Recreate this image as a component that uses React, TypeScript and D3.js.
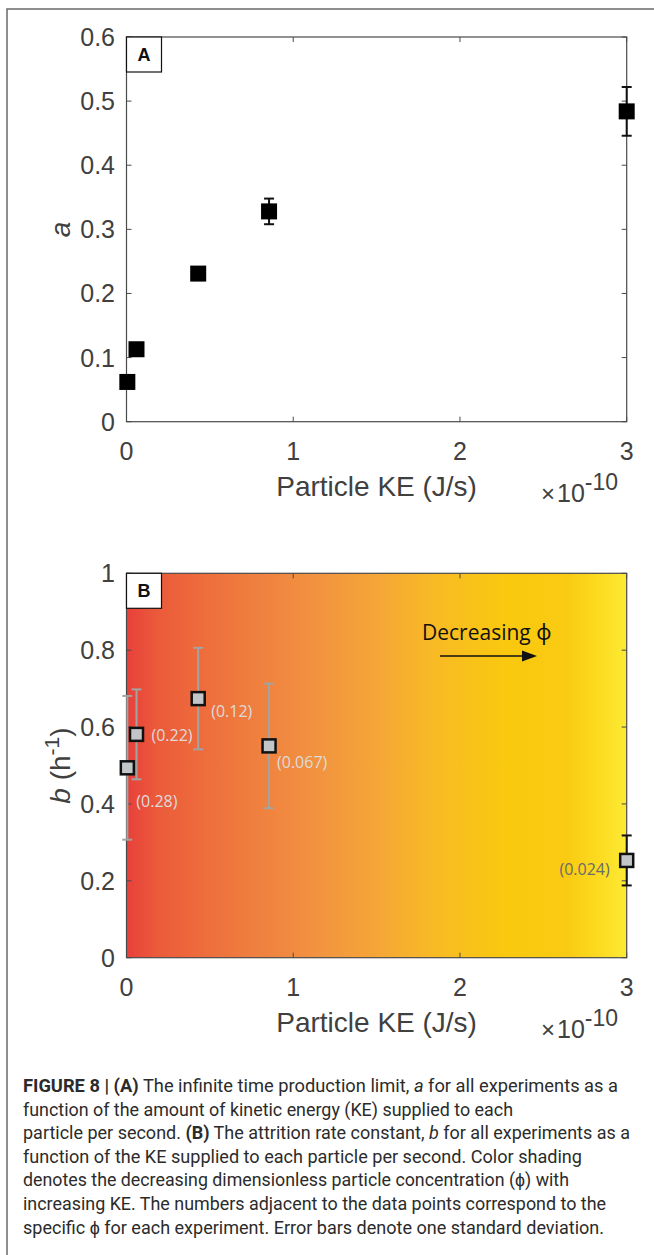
import React from "react";
import * as d3 from "d3";

// ---------- data ----------
const keA = [0.005, 0.06, 0.43, 0.855, 3.0]; // Particle KE (x1e-10 J/s)
const aVals = [0.062, 0.113, 0.231, 0.328, 0.484];
const aErr = [0, 0, 0, 0.02, 0.038];

const keB = [0.005, 0.06, 0.43, 0.855, 3.0];
const bVals = [0.494, 0.581, 0.674, 0.551, 0.253];
const bErr = [0.187, 0.117, 0.132, 0.162, 0.065];
const phiLabels = ["(0.28)", "(0.22)", "(0.12)", "(0.067)", "(0.024)"];

const xTicks = [0, 1, 2, 3];
const aTicks = [0, 0.1, 0.2, 0.3, 0.4, 0.5, 0.6];
const bTicks = [0, 0.2, 0.4, 0.6, 0.8, 1];

// label placement (px offsets from the point) and colours
const phiDx = [9, 15, 13, 8, -17];
const phiDy = [33, 1, 13, 16, 9];
const phiAnchor = ["start", "start", "start", "start", "end"];
const phiColor = ["#dcdcdc", "#dcdcdc", "#dcdcdc", "#dcdcdc", "#6a6a6a"];
const errColorB = ["#a3a3a3", "#a3a3a3", "#a3a3a3", "#a3a3a3", "#111"];

const gradStops: [number, string][] = [
  [0, "#e8403b"],
  [0.06, "#eb5a3a"],
  [0.15, "#ee6c3c"],
  [0.25, "#ef7e3f"],
  [0.38, "#f29340"],
  [0.5, "#f5a637"],
  [0.62, "#f8bb24"],
  [0.75, "#f9c80f"],
  [0.88, "#f9cb12"],
  [0.95, "#fcdc22"],
  [1, "#fdeb35"],
];

type Seg = [string, string?];
const captionLines: Seg[][] = [
  [["FIGURE 8 | (A)", "b"], [" The infinite time production limit, "], ["a", "i"], [" for all experiments as a"]],
  [["function of the amount of kinetic energy (KE) supplied to each"]],
  [["particle per second. "], ["(B)", "b"], [" The attrition rate constant, "], ["b", "i"], [" for all experiments as a"]],
  [["function of the KE supplied to each particle per second. Color shading"]],
  [["denotes the decreasing dimensionless particle concentration (\u03d5) with"]],
  [["increasing KE. The numbers adjacent to the data points correspond to the"]],
  [["specific \u03d5 for each experiment. Error bars denote one standard deviation."]],
];
const captionWidths = [595, 490, 607, 559, 546, 583, 581];

// ---------- layout ----------
const W = 654;
const H = 1255;
const X0 = 126.5;
const X1 = 626.7;
const x = d3.scaleLinear().domain([0, 3]).range([X0, X1]);
const yA = d3.scaleLinear().domain([0, 0.6]).range([421.7, 37]);
const yB = d3.scaleLinear().domain([0, 1]).range([957.7, 573.3]);

const AX = "#4a4a4a";
const TXT = "#404040";
const FONT = "'Liberation Sans', Arial, Helvetica, sans-serif";
const MYR = "'Open Sans', 'Noto Sans', sans-serif";

function Axes({ y, yTicks, fmt }: { y: d3.ScaleLinear<number, number>; yTicks: number[]; fmt: (v: number) => string }) {
  const [yb, yt] = y.range();
  return (
    <g>
      <rect x={X0} y={yt} width={X1 - X0} height={yb - yt} fill="none" stroke={AX} strokeWidth={1.2} />
      {xTicks.map((t) => (
        <g key={"x" + t}>
          <line x1={x(t)} x2={x(t)} y1={yb} y2={yb - 5} stroke={AX} />
          <line x1={x(t)} x2={x(t)} y1={yt} y2={yt + 5} stroke={AX} />
          <text x={x(t)} y={yb + 38} textAnchor="middle" fontSize={25} fill={TXT} fontFamily={FONT}>
            {t}
          </text>
        </g>
      ))}
      {yTicks.map((t) => (
        <g key={"y" + t}>
          <line x1={X0} x2={X0 + 5} y1={y(t)} y2={y(t)} stroke={AX} />
          <line x1={X1} x2={X1 - 5} y1={y(t)} y2={y(t)} stroke={AX} />
          <text x={X0 - 11.5} y={y(t)} dy="0.36em" textAnchor="end" fontSize={25} fill={TXT} fontFamily={FONT}>
            {fmt(t)}
          </text>
        </g>
      ))}
      <text x={(X0 + X1) / 2} y={yb + 74} textAnchor="middle" fontSize={28} fill={TXT} fontFamily={FONT}>
        Particle KE (J/s)
      </text>
      <text x={541} y={yb + 80} fontSize={25} fill={TXT} fontFamily={FONT}>
        <tspan fontSize={24}>{"\u00d7"}</tspan>
        <tspan dx={2}>10</tspan>
        <tspan dy={-12} fontSize={23}>-10</tspan>
      </text>
    </g>
  );
}

function PanelLabel({ y0, label }: { y0: number; label: string }) {
  return (
    <g>
      <rect x={X0} y={y0} width={35} height={35} fill="#fff" stroke="#111" strokeWidth={1.2} />
      <text x={X0 + 17.5} y={y0 + 17.5} dy="0.36em" textAnchor="middle" fontSize={18} fontWeight="bold" fill="#111" fontFamily={FONT}>
        {label}
      </text>
    </g>
  );
}

export default function App() {
  const fmtA = (v: number) => (v === 0 ? "0" : d3.format(".1f")(v));
  const fmtB = (v: number) => (v === 0 || v === 1 ? String(v) : d3.format(".1f")(v));
  const capX = 23;
  const capY0 = 1092;
  const capDy = 23.6;
  return (
    <svg width={W} height={H} style={{ position: "absolute", left: 0, top: 0, background: "#fff" }}>
      <defs>
        <linearGradient id="phiGrad" x1="0" x2="1" y1="0" y2="0">
          {gradStops.map(([o, c]) => (
            <stop key={o} offset={o} stopColor={c} />
          ))}
        </linearGradient>
      </defs>
      {/* outer frame */}
      <path d={`M${W} 9 H7 V${H}`} fill="none" stroke="#6a6a6a" strokeWidth={1.5} />

      {/* ---------- Panel A ---------- */}
      <Axes y={yA} yTicks={aTicks} fmt={fmtA} />
      <text transform={`translate(70,${(yA(0) + yA(0.6)) / 2}) rotate(-90)`} textAnchor="middle" fontSize={28} fontStyle="italic" fill={TXT} fontFamily={FONT}>
        a
      </text>
      {keA.map((k, i) => (
        <g key={"a" + i}>
          {aErr[i] > 0 && (
            <g stroke="#111" strokeWidth={2}>
              <line x1={x(k)} x2={x(k)} y1={yA(aVals[i] - aErr[i])} y2={yA(aVals[i] + aErr[i])} />
              <line x1={x(k) - 5} x2={x(k) + 5} y1={yA(aVals[i] + aErr[i])} y2={yA(aVals[i] + aErr[i])} />
              <line x1={x(k) - 5} x2={x(k) + 5} y1={yA(aVals[i] - aErr[i])} y2={yA(aVals[i] - aErr[i])} />
            </g>
          )}
          <rect x={x(k) - 8} y={yA(aVals[i]) - 8} width={16} height={16} fill="#000" />
        </g>
      ))}
      <PanelLabel y0={yA(0.6)} label="A" />

      {/* ---------- Panel B ---------- */}
      <rect x={X0} y={yB(1)} width={X1 - X0} height={yB(0) - yB(1)} fill="url(#phiGrad)" />
      <Axes y={yB} yTicks={bTicks} fmt={fmtB} />
      <text transform={`translate(70,${(yB(0) + yB(1)) / 2}) rotate(-90)`} textAnchor="middle" fontSize={28} fill={TXT} fontFamily={FONT}>
        <tspan fontStyle="italic">b</tspan>
        <tspan> (h</tspan>
        <tspan dy={-11} fontSize={21}>-1</tspan>
        <tspan dy={11}>)</tspan>
      </text>
      <text x={422} y={640} fontSize={21} fill="#111" fontFamily={MYR}>
        Decreasing {"\u03d5"}
      </text>
      <line x1={440} x2={526} y1={656} y2={656} stroke="#111" strokeWidth={1.6} />
      <path d="M537 656 L522 650.5 L522 661.5 Z" fill="#111" />
      {keB.map((k, i) => {
        const cx = x(k);
        const cy = yB(bVals[i]);
        const top = yB(bVals[i] + bErr[i]);
        const bot = yB(bVals[i] - bErr[i]);
        return (
          <g key={"b" + i}>
            <g stroke={errColorB[i]} strokeWidth={2}>
              <line x1={cx} x2={cx} y1={top} y2={bot} />
              <line x1={cx - 5} x2={cx + 5} y1={top} y2={top} />
              <line x1={cx - 5} x2={cx + 5} y1={bot} y2={bot} />
            </g>
            <rect x={cx - 6.5} y={cy - 6.5} width={13} height={13} fill="#c3c6c8" stroke="#111" strokeWidth={2.5} />
            <text x={cx + phiDx[i]} y={cy + phiDy[i]} dy="0.36em" textAnchor={phiAnchor[i]} fontSize={16} fill={phiColor[i]} fontFamily={MYR}>
              {phiLabels[i]}
            </text>
          </g>
        );
      })}
      <PanelLabel y0={yB(1)} label="B" />

      {/* ---------- caption ---------- */}
      {captionLines.map((segs, li) => (
        <text
          key={li}
          x={capX}
          y={capY0 + li * capDy}
          fontSize={18}
          fill="#2b2b2b"
          fontFamily="Roboto, 'Liberation Sans', sans-serif"
          textLength={captionWidths[li]}
          lengthAdjust="spacingAndGlyphs"
        >
          {segs.map(([t, s], si) => (
            <tspan key={si} fontWeight={s === "b" ? "bold" : undefined} fontStyle={s === "i" ? "italic" : undefined}>
              {t}
            </tspan>
          ))}
        </text>
      ))}
    </svg>
  );
}
